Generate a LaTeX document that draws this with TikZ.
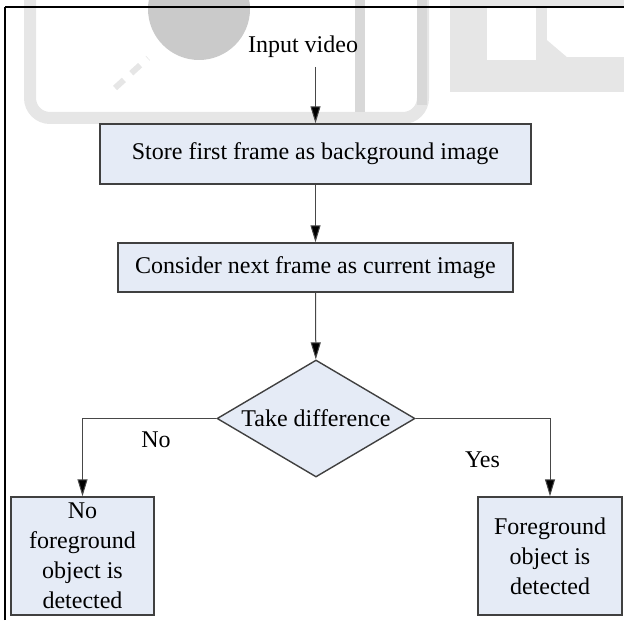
\documentclass[tikz,border=0pt]{standalone}
\usepackage{fontspec}
\setmainfont{Liberation Serif}
\usetikzlibrary{shapes.geometric,arrows.meta}
\definecolor{boxfill}{RGB}{229,235,246}
\definecolor{boxline}{RGB}{64,64,64}
\definecolor{wmdark}{RGB}{202,202,202}
\definecolor{wmmid}{RGB}{216,216,216}
\definecolor{wmlight}{RGB}{230,230,230}
\begin{document}
\begin{tikzpicture}[x=0.5pt,y=-0.5pt,
  procbox/.style={draw=boxline, line width=0.7pt, fill=boxfill, inner sep=0pt,
    align=center, font=\fontsize{12}{15}\selectfont},
  decbox/.style={diamond, draw=boxline, line width=0.7pt, fill=boxfill, inner sep=0pt,
    aspect=1.7, minimum width=99pt, minimum height=58.5pt, font=\fontsize{12}{15}\selectfont},
  flow/.style={draw=black!72, line width=0.5pt, -{Triangle[length=8.5pt,width=5pt,fill=black]}},
  lbl/.style={font=\fontsize{12}{15}\selectfont, inner sep=0pt}]
\useasboundingbox (0,0) rectangle (624,620);
% watermark
\begin{scope}
\clip (0,0) rectangle (624,620);
\fill[wmlight] (450,0) rectangle (624,92);
\fill[white] (487,8) rectangle (536,60);
\fill[white] (547,8) -- (624,8) -- (624,57) -- (567,57) -- (547,40) -- cycle;
\draw[wmlight, line width=6pt, rounded corners=10pt] (30,-10) -- (30,118) -- (423,118) -- (423,-10);
\draw[wmmid, line width=5pt] (360,-10) -- (360,112);
\draw[wmmid, line width=5pt] (422,-10) -- (422,105);
\fill[wmdark] (199,9) circle[radius=51];
\draw[wmlight, line width=3pt, dash pattern=on 6pt off 5pt] (115,88) -- (148,58);
\end{scope}
% frame
\draw[black, line width=1pt] (5,620) -- (5,7);
\draw[black, line width=0.8pt] (5,7) -- (624,7);
% nodes
\node[lbl] (inp) at (303,46.5) {Input video};
\node[procbox, minimum width=215.5pt, minimum height=30pt] (store) at (315.5,154) {Store first frame as background image};
\node[procbox, minimum width=197.5pt, minimum height=24.5pt] (cons) at (315.5,267.5) {Consider next frame as current image};
\node[decbox] (diff) at (316,418.5) {Take difference};
\node[procbox, minimum width=71.5pt, minimum height=59pt] (nofg) at (82.5,556) {No\\foreground\\object is\\detected};
\node[procbox, minimum width=72pt, minimum height=59pt] (fg) at (550,556) {Foreground\\object is\\detected};
\node[lbl] (no) at (156,440) {No};
\node[lbl] (yes) at (482.5,460) {Yes};
% connectors
\draw[flow] ([yshift=-4.5pt]inp.south -| store.north) -- (store.north);
\draw[flow] (store) -- (cons);
\draw[flow] (cons) -- (diff);
\draw[flow] (diff.west) -| (nofg.north);
\draw[flow] (diff.east) -| (fg.north);
\end{tikzpicture}
\end{document}
